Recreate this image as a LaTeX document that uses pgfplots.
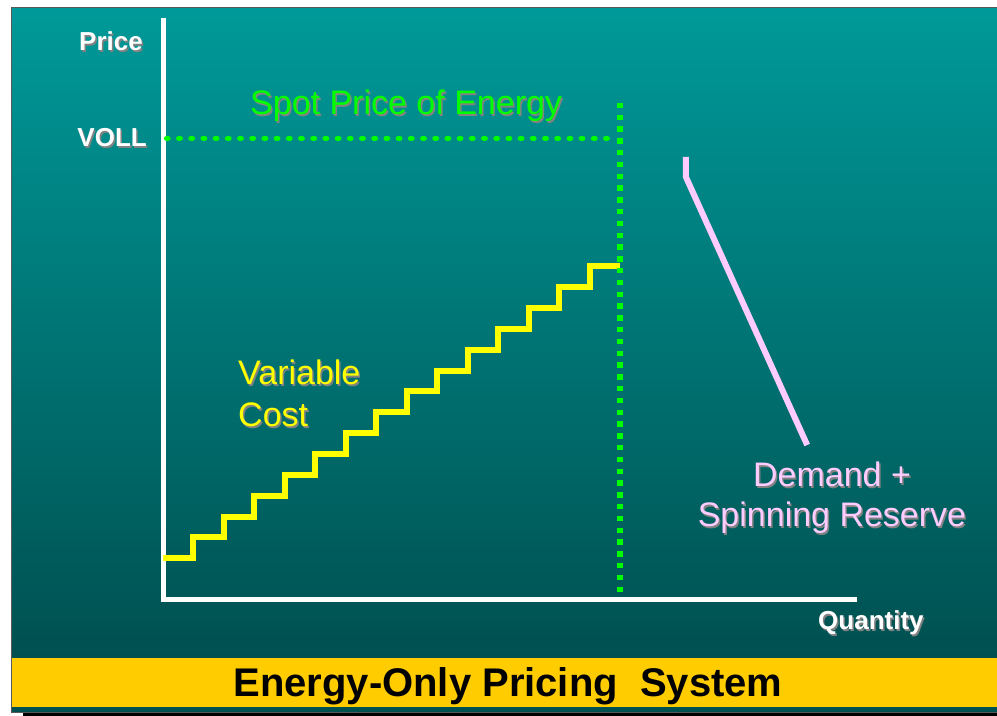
\documentclass[border=0pt]{standalone}
\usepackage{pgfplots}
\pgfplotsset{compat=1.18}
\usepackage{fontspec}
\setmainfont{Liberation Sans}
\definecolor{tealtop}{RGB}{0,153,153}
\definecolor{tealbot}{RGB}{0,80,80}
\definecolor{bandyellow}{RGB}{255,204,0}
\definecolor{spotgreen}{RGB}{0,255,0}
\definecolor{costyellow}{RGB}{255,255,0}
\definecolor{demandpink}{RGB}{255,204,255}
\definecolor{shadowgray}{RGB}{130,130,130}
\newcommand{\shtext}[5]{%
  \node[anchor=#2, inner sep=0pt, text=shadowgray, font=#4, xshift=1.5bp, yshift=-1.5bp] at #1 {#5};
  \node[anchor=#2, inner sep=0pt, text=#3, font=#4] at #1 {#5};
}
\newcommand{\lblfont}{\bfseries\fontsize{26bp}{30bp}\selectfont}
\newcommand{\bigfont}{\fontsize{34bp}{42bp}\selectfont}
\begin{document}
\begin{tikzpicture}[x=1bp,y=1bp]
% background
\fill[white] (0,0) rectangle (997,716);
\fill[black] (23,0) rectangle (997,3);
\fill[black!65] (10.5,3) rectangle (997,708.7);
\shade[top color=tealtop,bottom color=tealbot] (12,58) rectangle (997,707.3);
\fill[tealbot] (12,4) rectangle (997,58);
\fill[bandyellow] (12,9.3) rectangle (997,58);
\begin{axis}[
  at={(163bp,116bp)}, anchor=origin,
  scale only axis, width=691.7bp, height=579.5bp,
  xmin=0, xmax=22.7, ymin=0, ymax=27.78,
  axis lines=left,
  axis line style={white, line width=5bp, -, line cap=rect},
  xtick=\empty, ytick=\empty,
  clip=false,
]
% variable cost (stepped supply curve)
\addplot[costyellow, line width=6bp, const plot, line join=miter] coordinates {
  (0,2) (1,3) (2,4) (3,5) (4,6) (5,7) (6,8) (7,9) (8,10) (9,11)
  (10,12) (11,13) (12,14) (13,15) (14,16) (15,16)};
% VOLL level
\addplot[spotgreen, line width=5.6bp, line cap=round, dash pattern=on 1.2bp off 11bp]
  coordinates {(0.12,22.13) (14.9,22.13)};
% spot price vertical
\addplot[spotgreen, line width=5.4bp, dash pattern=on 5.4bp off 6.4bp]
  coordinates {(15,23.83) (15,0.24)};
% demand + spinning reserve
\addplot[demandpink, line width=6bp, line join=miter]
  coordinates {(17.16,21.24) (17.16,20.28) (21.14,7.43)};
\end{axis}
% labels
\shtext{(143,665.3)}{base east}{white}{\lblfont}{Price}
\shtext{(147,569)}{base east}{white}{\lblfont}{VOLL}
\shtext{(818,86)}{base west}{white}{\lblfont}{Quantity}
\shtext{(250,601)}{base west}{spotgreen}{\bigfont}{Spot Price of Energy}
\shtext{(238,331)}{base west}{costyellow}{\bigfont}{Variable}
\shtext{(238,289)}{base west}{costyellow}{\bigfont}{Cost}
\shtext{(832,229)}{base}{demandpink}{\bigfont}{Demand +}
\shtext{(832,189)}{base}{demandpink}{\bigfont}{Spinning Reserve}
\node[anchor=base, inner sep=0pt, text=black, font=\bfseries\fontsize{40bp}{46bp}\selectfont] at (508,19) {Energy-Only Pricing\ \ System};
\end{tikzpicture}
\end{document}
